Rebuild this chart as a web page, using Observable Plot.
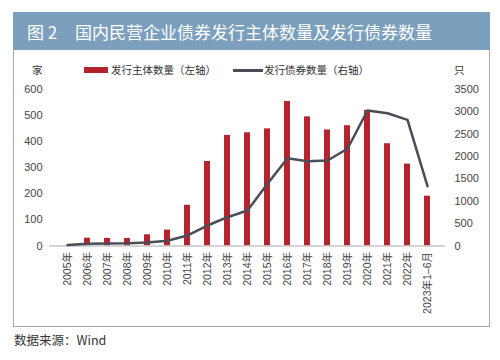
<!DOCTYPE html>
<html><head><meta charset="utf-8">
<script src="https://cdn.jsdelivr.net/npm/d3@7"></script>
<script src="https://cdn.jsdelivr.net/npm/@observablehq/plot@0.6"></script>
<style>
body{margin:0;background:#fff;}
#wrap{position:relative;width:500px;height:360px;overflow:hidden;font-family:"Liberation Sans","Noto Sans CJK SC",sans-serif;}
#title{position:absolute;left:13px;top:12px;width:477px;height:38px;background:#7b9fbd;color:#fff;font-family:"Noto Sans CJK SC",sans-serif;font-size:17px;line-height:40px;white-space:nowrap;}
#title .n{position:absolute;left:14px;}
#title .t{position:absolute;left:62px;}
#frame{position:absolute;left:13px;top:50px;width:475px;height:276px;border:1px solid #a8a8a8;border-top:none;}
#chart{position:absolute;left:0;top:50px;}
.lg{position:absolute;font-family:"Noto Sans CJK SC",sans-serif;font-size:10.5px;color:#333;line-height:12px;white-space:nowrap;}
#cap{position:absolute;left:14px;top:330px;font-family:"Noto Sans CJK SC",sans-serif;font-size:12.5px;color:#333;white-space:nowrap;}
</style></head>
<body>
<div id="wrap">
  <div id="title"><span class="n">图 2</span><span class="t">国内民营企业债券发行主体数量及发行债券数量</span></div>
  <div id="frame"></div>
  <div id="chart"></div>
  <div style="position:absolute;left:84px;top:67px;width:24px;height:6px;background:#b5232d"></div>
  <div class="lg" style="left:111px;top:64px">发行主体数量（左轴）</div>
  <div style="position:absolute;left:233px;top:69px;width:30px;height:2.5px;background:#4a4d56"></div>
  <div class="lg" style="left:264px;top:64px">发行债券数量（右轴）</div>
  <div class="lg" style="left:32px;top:64px">家</div>
  <div class="lg" style="left:454px;top:64px">只</div>
  <div id="cap">数据来源：Wind</div>
</div>
<script>
const years = ["2005年","2006年","2007年","2008年","2009年","2010年","2011年","2012年","2013年","2014年","2015年","2016年","2017年","2018年","2019年","2020年","2021年","2022年","2023年1–6月"];
const issuers = [0,30,29,29,43,61,156,324,424,434,449,554,495,445,461,520,392,314,191];
const bonds = [20,50,56,60,78,116,235,458,644,794,1391,1964,1897,1912,2174,3030,2970,2822,1337];
const leftTicks = [0,100,200,300,400,500,600];
const rightTicks = [0,500,1000,1500,2000,2500,3000,3500];
const leftMax = 600, rightMax = 3500;

const data = years.map((y,i)=>({year:y, issuers:issuers[i], bonds:bonds[i]}));
const k = leftMax/rightMax;

const chart = Plot.plot({
  width:500, height:277,
  marginTop:39, marginBottom:81.5, marginLeft:49, marginRight:55,
  style:{fontFamily:'"Liberation Sans","Noto Sans CJK SC",sans-serif', fontSize:"11px", color:"#444", background:"transparent"},
  x:{domain:years, paddingInner:0.7, paddingOuter:0.35, label:null},
  y:{domain:[0,leftMax], label:null},
  marks:[
    Plot.barY(data,{x:"year", y:"issuers", fill:"#b5232d"}),
    Plot.ruleY([0],{stroke:"#c4c4c4", strokeWidth:1.5}),
    Plot.lineY(data,{x:"year", y:d=>d.bonds*k, stroke:"#4a4d56", strokeWidth:2.5, strokeLinejoin:"round"}),
    Plot.axisY(leftTicks,{anchor:"left", tickSize:0, tickPadding:7, label:null, tickFormat:d=>String(d)}),
    Plot.axisY(rightTicks.map(v=>v*k),{anchor:"right", tickSize:0, tickPadding:9, label:null, tickFormat:d=>String(Math.round(d/k))}),
    Plot.axisX({tickRotate:-90, tickSize:0, tickPadding:6, fontSize:10.5, label:null})
  ]
});
document.getElementById("chart").appendChild(chart);
</script>
</body></html>
